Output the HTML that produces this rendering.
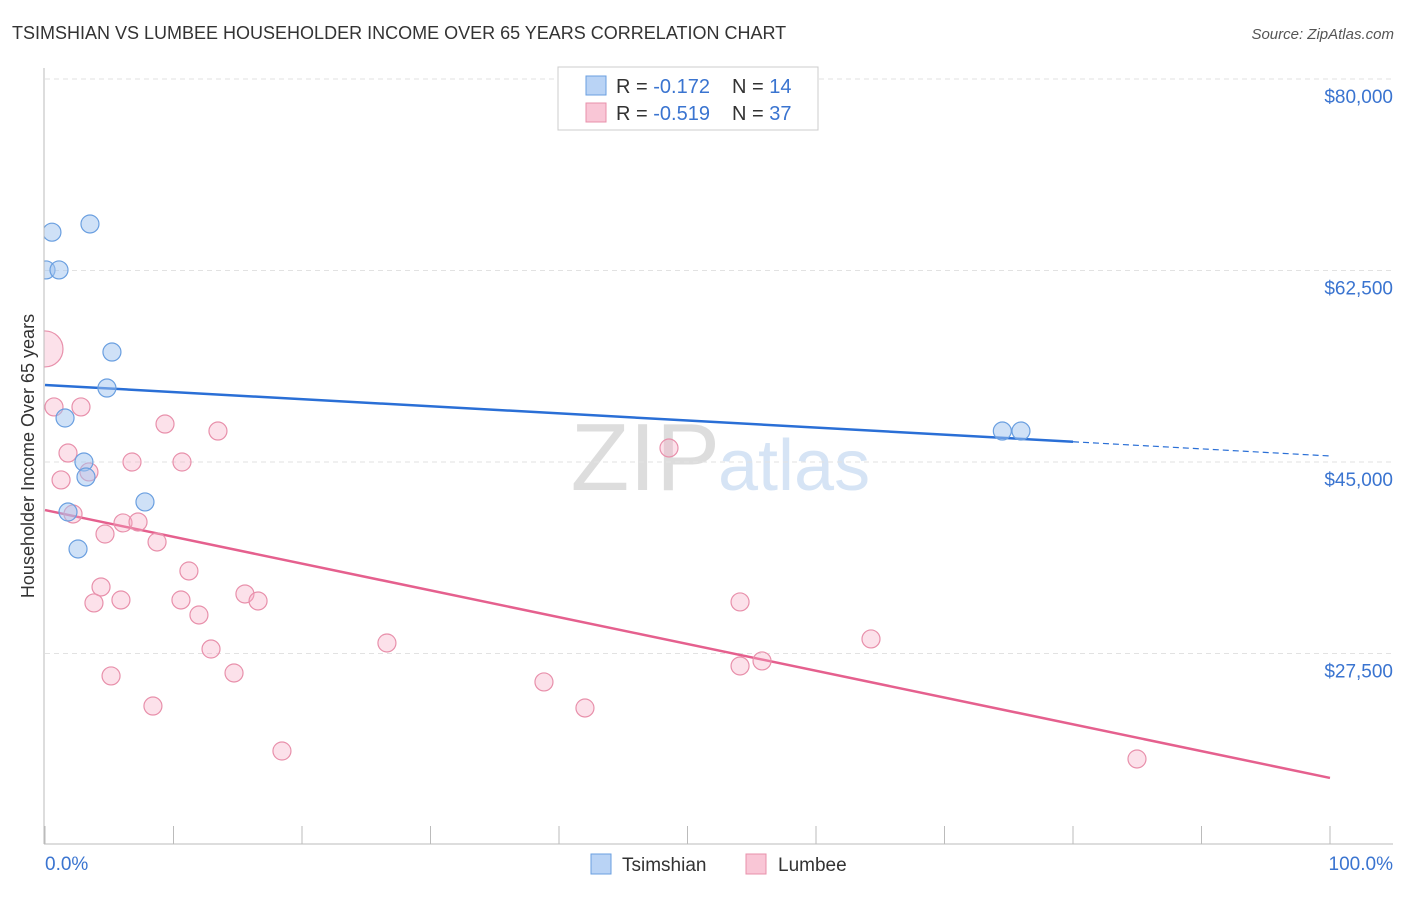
<!DOCTYPE html>
<html><head><meta charset="utf-8"><style>
body{margin:0;background:#fff;font-family:"Liberation Sans",sans-serif}
svg text{font-family:"Liberation Sans",sans-serif}
</style></head><body>
<svg width="1406" height="892" id="chart">
<defs><clipPath id="plotclip"><rect x="44" y="60" width="1360" height="790"/></clipPath></defs>
<text x="12" y="39" font-size="18" fill="#333">TSIMSHIAN VS LUMBEE HOUSEHOLDER INCOME OVER 65 YEARS CORRELATION CHART</text>
<text x="1394" y="39" font-size="15" fill="#555" font-style="italic" text-anchor="end">Source: ZipAtlas.com</text>
<text x="720" y="490" font-size="96" fill="#ddd" text-anchor="end" font-family="Liberation Serif">ZIP</text>
<text x="718" y="490" font-size="72" fill="#d6e4f5">atlas</text>
<text transform="translate(34,456) rotate(-90)" font-size="18" fill="#333" text-anchor="middle">Householder Income Over 65 years</text>
<g id="grid"></g><g id="lines"></g><g id="pts" clip-path="url(#plotclip)"></g>
<line x1="44" y1="68" x2="44" y2="844" stroke="#bbb"/>
<line x1="44" y1="844" x2="1393" y2="844" stroke="#bbb"/>
<text x="45" y="870" font-size="19" fill="#3a74d0">0.0%</text>
<text x="1393" y="870" font-size="19" fill="#3a74d0" text-anchor="end">100.0%</text>
<g>
<rect x="558" y="67" width="260" height="63" fill="#fff" stroke="#ccc"/>
<rect x="586" y="76" width="20" height="19" fill="#b9d3f5" stroke="#6a9fe0"/>
<rect x="586" y="103" width="20" height="19" fill="#f9c6d6" stroke="#e890ab"/>
<text x="616" y="93" font-size="20" fill="#333">R = <tspan fill="#3a74d0">-0.172</tspan><tspan x="732">N = </tspan><tspan fill="#3a74d0">14</tspan></text>
<text x="616" y="120" font-size="20" fill="#333">R = <tspan fill="#3a74d0">-0.519</tspan><tspan x="732">N = </tspan><tspan fill="#3a74d0">37</tspan></text>
</g>
<g>
<rect x="591" y="854" width="20" height="20" fill="#b9d3f5" stroke="#6a9fe0"/>
<text x="622" y="871" font-size="19" fill="#333">Tsimshian</text>
<rect x="746" y="854" width="20" height="20" fill="#f9c6d6" stroke="#e890ab"/>
<text x="778" y="871" font-size="19" fill="#333">Lumbee</text>
</g>
</svg>
<script>
const yTicks=[80000,62500,45000,27500];
const yTickLabels=["$80,000","$62,500","$45,000","$27,500"];
const xTicks=[0,10,20,30,40,50,60,70,80,90,100];
const tsimX=[0.54,3.5,0.08,1.09,5.21,4.82,1.56,3.03,3.19,7.78,1.79,2.57,74.5,75.95];
const tsimY=[66000,66750,62550,62550,55050,51760,49020,45000,43630,41350,40430,37050,47830,47830];
const lumX=[0,0.7,2.8,1.79,1.25,3.42,2.18,9.34,13.46,10.66,6.77,4.67,6.07,7.24,8.72,11.2,4.36,3.81,5.91,10.58,11.98,15.56,16.58,12.92,5.14,14.71,8.4,18.44,26.61,38.83,42.02,48.56,54.09,54.09,55.8,64.28,84.98];
const lumY=[55330,50030,50030,45820,43360,44090,40250,48470,47830,45000,45000,38420,39430,39520,37690,35040,33580,32120,32390,32390,31020,32940,32300,27910,25450,25720,22700,18590,28460,24900,22520,46280,32210,26360,26820,28830,17860];
const tsimTrend=[52040,45550]; // value at 0% and 100%
const lumTrend=[40610,16130];
const tsimSolidEnd=80;
const X=v=>45+v/100*1285, Y=v=>79+(80000-v)/17500*191.5;
const NS="http://www.w3.org/2000/svg";
function mk(p,tag,a){const e=document.createElementNS(NS,tag);for(const k in a)e.setAttribute(k,a[k]);document.getElementById(p).appendChild(e);return e;}
yTicks.forEach((t,i)=>{
 const l=mk('grid','line',{x1:45,x2:1393,y1:Y(t),y2:Y(t),stroke:'#e2e2e2','stroke-dasharray':'5,4'});
 
 
 const tx=mk('grid','text',{x:1393,y:Y(t)+24,'font-size':19,fill:'#3a74d0','text-anchor':'end'});
 tx.textContent=yTickLabels[i];
 
 
});
xTicks.forEach(t=>{
 const l=mk('grid','line',{x1:X(t),x2:X(t),y1:826,y2:844,stroke:'#bbb'});
 
 
});
const tv=p=>tsimTrend[0]+(tsimTrend[1]-tsimTrend[0])*p/100;
const lv=p=>lumTrend[0]+(lumTrend[1]-lumTrend[0])*p/100;
let l1=mk('lines','line',{x1:X(0),y1:Y(tv(0)),x2:X(tsimSolidEnd),y2:Y(tv(tsimSolidEnd)),stroke:'#2a6fd6','stroke-width':2.5});


let l2=mk('lines','line',{x1:X(tsimSolidEnd),y1:Y(tv(tsimSolidEnd)),x2:X(100),y2:Y(tv(100)),stroke:'#2a6fd6','stroke-width':1.2,'stroke-dasharray':'6,4'});


let l3=mk('lines','line',{x1:X(0),y1:Y(lv(0)),x2:X(100),y2:Y(lv(100)),stroke:'#e5608e','stroke-width':2.5});


lumX.forEach((x,i)=>{
 const c=mk('pts','circle',{cx:X(x),cy:Y(lumY[i]),r:i==0?18:9,fill:'rgba(245,170,195,0.35)',stroke:'#e890ab','stroke-width':1.2});
 
 
});
tsimX.forEach((x,i)=>{
 const c=mk('pts','circle',{cx:X(x),cy:Y(tsimY[i]),r:9,fill:'rgba(160,195,240,0.5)',stroke:'#6a9fe0','stroke-width':1.2});
 
 
});
</script>
</body></html>
